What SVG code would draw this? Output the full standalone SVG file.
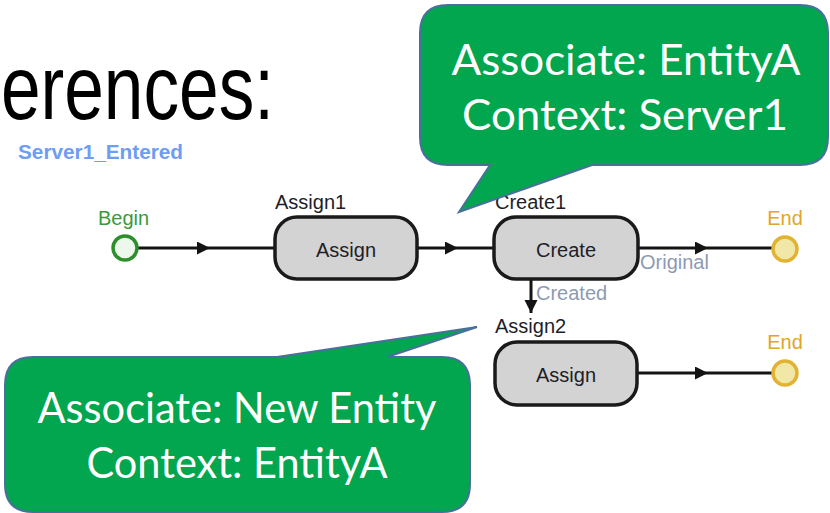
<svg xmlns="http://www.w3.org/2000/svg" width="830" height="513" viewBox="0 0 830 513">
<defs>
<style>
.lbl{font-family:"Liberation Sans",Arial,sans-serif;font-size:20px;fill:#1e1e28}
.box{fill:#d3d3d3;stroke:#1a1a1a;stroke-width:3.5}
.conn{fill:none;stroke:#141414;stroke-width:3}
.gray{font-family:"Liberation Sans",Arial,sans-serif;font-size:20px;fill:#8e9ab2}
.endc{fill:#f1e7a6;stroke:#e2b232;stroke-width:3.5}
.endt{font-family:"Liberation Sans",Arial,sans-serif;font-size:20px;fill:#e0a629;text-anchor:middle}
.call{fill:#02a64f;stroke:#4a6f9c;stroke-width:2}
.ct{font-family:Lato,"Open Sans",sans-serif;font-size:43px;fill:#ffffff;text-anchor:middle}
</style>
<marker id="arr" markerUnits="userSpaceOnUse" markerWidth="14" markerHeight="14" refX="13" refY="6.5" orient="auto">
<path d="M0,0 L13,6.5 L0,13 Z" fill="#141414"/>
</marker>
</defs>
<rect width="830" height="513" fill="#ffffff"/>
<text x="1" y="119" font-family="'Liberation Sans',Arial,sans-serif" font-size="90" fill="#000" textLength="273" lengthAdjust="spacingAndGlyphs">erences:</text>
<text x="18" y="159" font-family="'Liberation Sans',Arial,sans-serif" font-size="20" font-weight="bold" fill="#6f9cf4" textLength="165" lengthAdjust="spacingAndGlyphs">Server1_Entered</text>

<g id="connectors">
<polyline class="conn" points="137,248 210,248 275,248" marker-mid="url(#arr)"/>
<polyline class="conn" points="417,248 458,248 494,248" marker-mid="url(#arr)"/>
<polyline class="conn" points="638,248 708,248 773,248" marker-mid="url(#arr)"/>
<polyline class="conn" points="531,280 531,313" marker-end="url(#arr)"/>
<polyline class="conn" points="637,373 708,373 773,373" marker-mid="url(#arr)"/>
<text class="gray" x="640" y="269">Original</text>
<text class="gray" x="536" y="300">Created</text>
</g>

<g id="begin">
<text x="98" y="225" font-family="'Liberation Sans',Arial,sans-serif" font-size="20" fill="#3a9a3a">Begin</text>
<circle cx="125" cy="248" r="12" fill="#ebf8eb" stroke="#2c8f2c" stroke-width="3.5"/>
</g>

<g id="assign1">
<text class="lbl" x="275" y="209">Assign1</text>
<rect class="box" x="275" y="217" width="142" height="62" rx="22"/>
<text class="lbl" x="346" y="257" text-anchor="middle">Assign</text>
</g>

<g id="create1">
<text class="lbl" x="495" y="209">Create1</text>
<rect class="box" x="494" y="217" width="144" height="62" rx="22"/>
<text class="lbl" x="566" y="257" text-anchor="middle">Create</text>
</g>

<g id="assign2">
<text class="lbl" x="495" y="333">Assign2</text>
<rect class="box" x="495" y="342" width="142" height="63" rx="22"/>
<text class="lbl" x="566" y="382" text-anchor="middle">Assign</text>
</g>

<g id="end1">
<text class="endt" x="785" y="225">End</text>
<circle class="endc" cx="785" cy="249" r="12"/>
</g>

<g id="end2">
<text class="endt" x="785" y="349">End</text>
<circle class="endc" cx="785" cy="373" r="12"/>
</g>

<g id="callout1">
<path class="call" d="M448,5 H800 Q828,5 828,33 V137 Q828,165 800,165 H592 L459,212 L490,165 H448 Q420,165 420,137 V33 Q420,5 448,5 Z"/>
<text class="ct" x="626" y="75" textLength="349" lengthAdjust="spacingAndGlyphs">Associate: EntityA</text>
<text class="ct" x="625" y="130" textLength="326" lengthAdjust="spacingAndGlyphs">Context: Server1</text>
</g>

<g id="callout2">
<path class="call" d="M33,357 H277 L477,327 L387,357 H442 Q470,357 470,385 V484 Q470,512 442,512 H33 Q5,512 5,484 V385 Q5,357 33,357 Z"/>
<text class="ct" x="237" y="423" textLength="399" lengthAdjust="spacingAndGlyphs">Associate: New Entity</text>
<text class="ct" x="237" y="478" textLength="301" lengthAdjust="spacingAndGlyphs">Context: EntityA</text>
</g>
</svg>
